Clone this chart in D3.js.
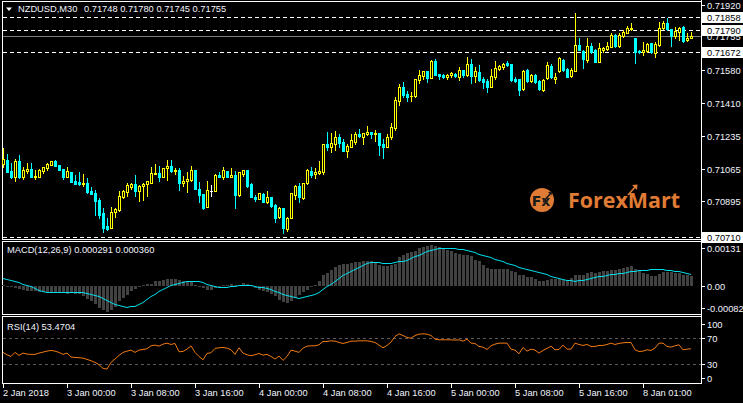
<!DOCTYPE html>
<html><head><meta charset="utf-8">
<script src="https://cdn.jsdelivr.net/npm/d3@7"></script>
<style>
html,body{margin:0;padding:0;background:#000;overflow:hidden}
svg{display:block}
text{font-family:"Liberation Sans",Arial,sans-serif;font-size:9.3px}
</style></head><body>
<svg id="c" width="743" height="403"></svg>
<script>
const symbol = "NZDUSD,M30";
const opens = [0.71091,0.71112,0.71054,0.71020,0.71106,0.71020,0.71054,0.71065,0.71025,0.71025,
0.71056,0.71068,0.71087,0.71106,0.71085,0.71063,0.71025,0.71051,0.71002,0.70995,
0.70985,0.70990,0.70950,0.70941,0.70903,0.70834,0.70768,0.70759,0.70839,0.70851,
0.70920,0.70946,0.70969,0.70985,0.70952,0.70978,0.70985,0.70993,0.71040,0.71045,
0.71025,0.71068,0.71080,0.71056,0.71059,0.70993,0.71002,0.71007,0.71059,0.70960,
0.70934,0.70865,0.70952,0.70952,0.71033,0.71025,0.71056,0.71025,0.71033,0.70929,
0.71040,0.71059,0.70985,0.70920,0.70908,0.70934,0.70894,0.70917,0.70877,0.70816,
0.70860,0.70750,0.70811,0.70929,0.70976,0.70912,0.70990,0.71054,0.71037,0.71042,
0.71047,0.71195,0.71181,0.71195,0.71230,0.71204,0.71160,0.71181,0.71207,0.71247,
0.71233,0.71247,0.71256,0.71244,0.71251,0.71195,0.71181,0.71230,0.71280,0.71420,
0.71490,0.71455,0.71445,0.71445,0.71528,0.71551,0.71575,0.71540,0.71627,0.71559,
0.71554,0.71545,0.71552,0.71558,0.71545,0.71580,0.71554,0.71611,0.71549,0.71570,
0.71533,0.71523,0.71493,0.71545,0.71585,0.71594,0.71618,0.71611,0.71533,0.71533,
0.71480,0.71580,0.71523,0.71554,0.71523,0.71476,0.71537,0.71603,0.71531,0.71577,
0.71632,0.71584,0.71549,0.71577,0.71710,0.71681,0.71632,0.71707,0.71684,0.71624,
0.71684,0.71688,0.71702,0.71763,0.71707,0.71759,0.71775,0.71792,0.71745,0.71679,
0.71672,0.71679,0.71719,0.71670,0.71710,0.71797,0.71823,0.71794,0.71759,0.71780,
0.71803,0.71737,0.71748];
const highs = [0.71172,0.71143,0.71098,0.71117,0.71138,0.71073,0.71094,0.71094,0.71059,0.71063,
0.71077,0.71098,0.71108,0.71112,0.71087,0.71063,0.71077,0.71051,0.71033,0.71049,
0.71039,0.71016,0.70973,0.70955,0.70915,0.70860,0.70811,0.70865,0.70860,0.70950,
0.70955,0.70993,0.70993,0.71033,0.70981,0.70993,0.71004,0.71073,0.71091,0.71082,
0.71072,0.71112,0.71112,0.71072,0.71072,0.71028,0.71051,0.71080,0.71059,0.70999,
0.70934,0.71002,0.70981,0.71039,0.71051,0.71073,0.71056,0.71068,0.71056,0.71051,
0.71059,0.71059,0.70990,0.70929,0.70941,0.70938,0.70952,0.70917,0.70882,0.70868,
0.70860,0.70813,0.70941,0.70981,0.70993,0.70993,0.71063,0.71073,0.71072,0.71106,
0.71195,0.71256,0.71251,0.71263,0.71247,0.71221,0.71195,0.71247,0.71259,0.71273,
0.71254,0.71289,0.71259,0.71268,0.71251,0.71221,0.71247,0.71303,0.71438,0.71507,
0.71516,0.71473,0.71464,0.71535,0.71580,0.71575,0.71575,0.71631,0.71638,0.71559,
0.71559,0.71559,0.71572,0.71563,0.71598,0.71580,0.71650,0.71636,0.71598,0.71606,
0.71542,0.71532,0.71585,0.71627,0.71605,0.71618,0.71627,0.71611,0.71542,0.71533,
0.71580,0.71584,0.71559,0.71559,0.71528,0.71535,0.71624,0.71610,0.71566,0.71645,
0.71636,0.71589,0.71589,0.71879,0.71745,0.71684,0.71745,0.71719,0.71688,0.71719,
0.71702,0.71728,0.71771,0.71766,0.71771,0.71789,0.71810,0.71823,0.71745,0.71684,
0.71728,0.71723,0.71723,0.71728,0.71832,0.71837,0.71849,0.71794,0.71803,0.71806,
0.71810,0.71771,0.71780];
const lows = [0.71076,0.71051,0.71018,0.71004,0.71018,0.71013,0.71045,0.71023,0.71013,0.71021,
0.71045,0.71059,0.71084,0.71080,0.71057,0.71013,0.71020,0.70995,0.70985,0.70981,
0.70978,0.70941,0.70934,0.70825,0.70811,0.70738,0.70747,0.70759,0.70816,0.70847,
0.70912,0.70924,0.70960,0.70924,0.70898,0.70903,0.70924,0.70993,0.71038,0.71002,
0.71020,0.71007,0.71051,0.71039,0.70955,0.70976,0.70946,0.71004,0.70959,0.70894,
0.70856,0.70865,0.70924,0.70952,0.71020,0.71011,0.71025,0.71025,0.70863,0.70924,
0.71028,0.70973,0.70920,0.70900,0.70907,0.70893,0.70886,0.70868,0.70790,0.70811,
0.70733,0.70743,0.70808,0.70908,0.70894,0.70908,0.70987,0.71020,0.71016,0.71037,
0.71039,0.71164,0.71155,0.71164,0.71178,0.71160,0.71129,0.71181,0.71195,0.71233,
0.71195,0.71242,0.71224,0.71212,0.71138,0.71124,0.71178,0.71221,0.71268,0.71398,
0.71441,0.71420,0.71420,0.71441,0.71514,0.71533,0.71519,0.71537,0.71554,0.71533,
0.71537,0.71533,0.71545,0.71545,0.71528,0.71542,0.71549,0.71514,0.71519,0.71525,
0.71485,0.71467,0.71490,0.71532,0.71580,0.71585,0.71601,0.71525,0.71519,0.71450,
0.71476,0.71519,0.71519,0.71511,0.71476,0.71470,0.71532,0.71538,0.71514,0.71572,
0.71577,0.71542,0.71542,0.71577,0.71684,0.71592,0.71624,0.71667,0.71622,0.71624,
0.71676,0.71684,0.71698,0.71702,0.71702,0.71754,0.71771,0.71789,0.71615,0.71667,
0.71658,0.71676,0.71670,0.71650,0.71707,0.71792,0.71789,0.71707,0.71745,0.71737,
0.71728,0.71733,0.71745];
const closes = [0.71115,0.71051,0.71020,0.71106,0.71020,0.71059,0.71065,0.71025,0.71028,0.71059,
0.71073,0.71091,0.71104,0.71082,0.71059,0.71020,0.71054,0.70999,0.70987,0.70985,
0.70993,0.70946,0.70934,0.70898,0.70825,0.70759,0.70750,0.70839,0.70855,0.70924,
0.70950,0.70981,0.70987,0.70952,0.70976,0.70988,0.71002,0.71042,0.71045,0.71025,
0.71068,0.71080,0.71054,0.71061,0.70993,0.71002,0.71011,0.71059,0.70960,0.70929,
0.70860,0.70955,0.70952,0.71033,0.71025,0.71059,0.71025,0.71033,0.70929,0.71047,
0.71059,0.70976,0.70920,0.70907,0.70938,0.70894,0.70919,0.70872,0.70811,0.70860,
0.70755,0.70808,0.70938,0.70978,0.70917,0.70990,0.71059,0.71033,0.71047,0.71056,
0.71195,0.71178,0.71198,0.71230,0.71202,0.71160,0.71185,0.71216,0.71247,0.71237,
0.71254,0.71259,0.71244,0.71254,0.71190,0.71181,0.71230,0.71282,0.71424,0.71490,
0.71450,0.71438,0.71447,0.71532,0.71554,0.71575,0.71540,0.71627,0.71554,0.71549,
0.71542,0.71556,0.71563,0.71549,0.71580,0.71554,0.71611,0.71549,0.71575,0.71528,
0.71519,0.71490,0.71549,0.71589,0.71601,0.71612,0.71608,0.71528,0.71525,0.71476,
0.71575,0.71523,0.71554,0.71519,0.71480,0.71528,0.71606,0.71542,0.71545,0.71641,
0.71580,0.71545,0.71580,0.71710,0.71684,0.71636,0.71705,0.71676,0.71624,0.71697,
0.71697,0.71705,0.71763,0.71707,0.71763,0.71780,0.71797,0.71797,0.71672,0.71672,
0.71684,0.71716,0.71672,0.71716,0.71797,0.71823,0.71794,0.71759,0.71783,0.71801,
0.71733,0.71749,0.71755];
const macdMain = [0.48e-4,0,-0.29e-4,-0.48e-4,-0.68e-4,-0.96e-4,-1.16e-4,-1.25e-4,-1.44e-4,-1.63e-4,
-1.63e-4,-1.73e-4,-1.63e-4,-1.73e-4,-1.82e-4,-1.93e-4,-2.02e-4,-1.93e-4,-2.11e-4,-2.21e-4,
-2.88e-4,-3.56e-4,-4.32e-4,-5.09e-4,-6.06e-4,-6.82e-4,-7.21e-4,-6.73e-4,-5.77e-4,-4.32e-4,
-3.36e-4,-2.41e-4,-1.44e-4,-0.68e-4,0,0.48e-4,0.68e-4,0.86e-4,1.44e-4,1.63e-4,
1.93e-4,2.11e-4,2.21e-4,2.11e-4,1.73e-4,1.44e-4,1.44e-4,1.16e-4,0.48e-4,0,
-0.48e-4,-0.96e-4,-0.96e-4,-0.48e-4,-0.29e-4,0.29e-4,0.48e-4,0.68e-4,0.48e-4,0.48e-4,
0.96e-4,0.68e-4,0.29e-4,-0.48e-4,-0.96e-4,-1.25e-4,-1.63e-4,-2.21e-4,-2.88e-4,-3.84e-4,
-4.61e-4,-4.81e-4,-4.13e-4,-3.36e-4,-2.41e-4,-1.63e-4,-0.96e-4,-0.29e-4,0.48e-4,1.44e-4,
3.18e-4,3.84e-4,4.81e-4,5.48e-4,6.06e-4,6.44e-4,6.54e-4,6.73e-4,6.92e-4,7.02e-4,
7.21e-4,7.21e-4,7.21e-4,6.73e-4,6.25e-4,5.77e-4,5.96e-4,6.25e-4,6.44e-4,8.36e-4,
9.13e-4,9.61e-4,9.90e-4,10.29e-4,11.05e-4,11.24e-4,11.54e-4,12.02e-4,11.54e-4,11.24e-4,
11.05e-4,10.57e-4,10.09e-4,9.61e-4,9.32e-4,8.94e-4,8.94e-4,8.65e-4,7.69e-4,7.21e-4,
6.25e-4,5.29e-4,5.00e-4,5.00e-4,5.09e-4,5.09e-4,5.09e-4,4.52e-4,4.04e-4,3.36e-4,
3.18e-4,2.59e-4,2.59e-4,2.21e-4,1.44e-4,1.44e-4,1.93e-4,2.11e-4,2.11e-4,2.11e-4,
1.93e-4,1.44e-4,2.41e-4,3.18e-4,3.36e-4,3.36e-4,3.84e-4,4.13e-4,3.84e-4,4.04e-4,
4.32e-4,4.52e-4,4.81e-4,4.81e-4,5.00e-4,5.29e-4,5.48e-4,5.77e-4,5.00e-4,4.52e-4,
3.84e-4,3.65e-4,3.07e-4,2.88e-4,3.56e-4,4.04e-4,4.04e-4,4.04e-4,3.84e-4,3.84e-4,
3.36e-4,3.20e-4,2.91e-4];
const macdSignal = [2.41e-4,2.11e-4,1.82e-4,1.44e-4,1.16e-4,0.86e-4,0.48e-4,0.09e-4,-0.48e-4,-0.96e-4,
-1.44e-4,-1.63e-4,-1.73e-4,-1.73e-4,-1.73e-4,-1.63e-4,-1.63e-4,-1.63e-4,-1.63e-4,-1.63e-4,
-1.73e-4,-1.93e-4,-2.02e-4,-2.41e-4,-2.79e-4,-3.36e-4,-3.94e-4,-4.52e-4,-5.00e-4,-5.38e-4,
-5.57e-4,-5.77e-4,-5.67e-4,-5.48e-4,-5.00e-4,-4.42e-4,-3.65e-4,-2.88e-4,-2.11e-4,-1.34e-4,
-0.77e-4,-0.29e-4,0.29e-4,0.77e-4,1.06e-4,1.34e-4,1.44e-4,1.54e-4,1.54e-4,1.44e-4,
1.16e-4,0.77e-4,0.39e-4,0.09e-4,-0.09e-4,-0.09e-4,-0.09e-4,0,0.19e-4,0.39e-4,
0.48e-4,0.39e-4,0.29e-4,0.09e-4,-0.09e-4,-0.29e-4,-0.48e-4,-0.77e-4,-1.16e-4,-1.54e-4,
-2.02e-4,-2.50e-4,-2.88e-4,-3.07e-4,-3.18e-4,-3.07e-4,-2.88e-4,-2.50e-4,-2.11e-4,-1.63e-4,
-0.77e-4,0,0.86e-4,1.63e-4,2.41e-4,3.18e-4,3.84e-4,4.52e-4,5.09e-4,5.67e-4,
6.15e-4,6.63e-4,7.02e-4,7.02e-4,7.02e-4,6.82e-4,6.73e-4,6.73e-4,6.92e-4,7.21e-4,
7.40e-4,7.69e-4,8.17e-4,8.65e-4,9.13e-4,9.61e-4,10.09e-4,10.57e-4,10.86e-4,11.05e-4,
11.05e-4,11.05e-4,11.05e-4,11.05e-4,10.86e-4,10.67e-4,10.38e-4,10.09e-4,9.80e-4,9.42e-4,
9.04e-4,8.65e-4,8.36e-4,7.98e-4,7.59e-4,7.21e-4,6.82e-4,6.44e-4,6.06e-4,5.67e-4,
5.29e-4,5.00e-4,4.71e-4,4.32e-4,4.04e-4,3.75e-4,3.46e-4,3.07e-4,2.79e-4,2.50e-4,
2.21e-4,1.93e-4,1.73e-4,1.63e-4,1.73e-4,1.93e-4,2.21e-4,2.41e-4,2.69e-4,2.88e-4,
3.07e-4,3.27e-4,3.46e-4,3.65e-4,3.75e-4,3.94e-4,4.13e-4,4.32e-4,4.52e-4,4.61e-4,
4.71e-4,4.81e-4,4.90e-4,4.90e-4,5.00e-4,4.95e-4,4.85e-4,4.70e-4,4.55e-4,4.35e-4,
4.15e-4,3.90e-4,3.60e-4];
const rsiValues = [47.8,44.1,41.5,47.8,43.1,46.7,45.2,44.7,44.7,46.7,
48.3,49.8,50.9,49.8,47.8,44.7,46.7,40.5,40.0,39.5,
38.9,36.9,34.8,32.2,28.6,22.9,21.8,32.2,37.4,43.1,
47.8,49.8,51.4,47.8,51.4,52.4,53.5,58.1,59.2,57.6,
60.7,62.3,60.2,61.8,48.8,49.3,52.9,58.1,47.8,41.5,
36.3,46.2,47.2,54.0,55.0,55.5,54.5,51.9,44.7,55.0,
46.7,44.1,42.6,44.1,46.2,43.6,44.7,41.5,37.4,42.1,
35.3,41.5,51.4,49.8,47.8,54.5,57.6,58.1,58.1,59.7,
64.9,64.9,65.9,65.4,63.3,61.8,63.3,65.4,65.4,65.9,
65.9,65.9,64.9,63.3,59.2,55.0,58.7,63.9,72.7,76.8,
74.2,71.1,70.1,74.2,76.3,76.8,76.3,74.2,68.5,67.5,
67.5,67.5,67.5,67.0,67.5,65.4,68.5,62.3,61.8,57.1,
56.1,52.4,58.1,60.7,62.3,62.3,62.3,52.9,51.4,45.7,
55.5,49.8,52.9,51.4,46.7,50.9,54.0,57.6,51.9,52.4,
59.2,52.9,52.9,62.3,60.2,58.7,60.2,57.1,57.1,58.7,
58.7,60.2,62.3,60.2,61.8,62.8,63.3,63.3,51.9,49.3,
49.8,51.9,50.9,54.5,62.3,62.3,57.1,56.1,58.1,59.7,
51.9,52.9,53.4704];
const timeTickBars = [0,16,32,48,64,80,96,112,128,144,160];
const timeTickLabels = ["2 Jan 2018","3 Jan 00:00","3 Jan 08:00","3 Jan 16:00","4 Jan 00:00","4 Jan 08:00","4 Jan 16:00","5 Jan 00:00","5 Jan 08:00","5 Jan 16:00","8 Jan 01:00"];
const priceTicks = [0.71920,0.71580,0.71410,0.71235,0.71065,0.70895];
const levelLines = [0.71858,0.71790,0.71672,0.70710];
const currentPrice = 0.71755;
const macdAxisLabels = ["0.00131","0.00","-0.000821"];
const macdRange = [-0.000821,0.00131];
const rsiLevels = [70,30];
const rsiAxisLabels = [100,70,30,0];

const W=743,H=403;
const svg=d3.select("#c");
svg.append("rect").attr("width",W).attr("height",H).attr("fill","#000");
const n=closes.length;
const x=d3.scaleLinear().domain([0,n-1]).range([3,3+4*(n-1)]);
const yP=d3.scaleLinear().domain([0.70710,0.71920]).range([237,4.7]);
const yM=d3.scaleLinear().domain(macdRange).range([315,241]);
const yR=d3.scaleLinear().domain([0,100]).range([383,319]);
const R=Math.round;
const fmt5=d3.format(".5f");
const axisText="#f2f4ff";

// frames
const fr=svg.append("g").attr("shape-rendering","crispEdges").attr("fill","#fff");
function hline(y,x0,x1){fr.append("rect").attr("x",x0).attr("y",y).attr("width",x1-x0).attr("height",1);}
function vline(x0,y0,y1){fr.append("rect").attr("x",x0).attr("y",y0).attr("width",1).attr("height",y1-y0);}
hline(1,2,702); hline(239,2,702);
hline(241,2,702); hline(314,2,702);
hline(316,2,702); hline(383,2,702);
vline(2,1,240); vline(2,241,315); vline(2,316,384);
vline(701,0,384);

// level lines main
const lv=svg.append("g").attr("shape-rendering","crispEdges");
lv.append("line").attr("x1",3).attr("x2",701).attr("y1",R(yP(currentPrice))+0.5).attr("y2",R(yP(currentPrice))+0.5)
  .attr("stroke","#7a7a7a").attr("stroke-width",1);
levelLines.forEach(v=>{
  const yy=R(yP(v))+0.5;
  lv.append("line").attr("x1",3).attr("x2",701).attr("y1",yy).attr("y2",yy)
    .attr("stroke","#fff").attr("stroke-width",1).attr("stroke-dasharray","4,3");
});

// candles
const cg=svg.append("g").attr("shape-rendering","crispEdges");
for(let i=0;i<n;i++){
  const o=opens[i],h=highs[i],l=lows[i],c=closes[i];
  const col=c>o?"#ffff00":(c<o?"#00ffff":"#ffffff");
  const cx=R(x(i));
  const yh=R(yP(h)),yl=R(yP(l));
  cg.append("rect").attr("x",cx).attr("y",yh).attr("width",1).attr("height",Math.max(1,yl-yh+1)).attr("fill",col);
  const top=R(yP(Math.max(o,c))),bot=R(yP(Math.min(o,c)));
  const bh=Math.max(1,bot-top+1);
  cg.append("rect").attr("x",cx-1).attr("y",top).attr("width",3).attr("height",bh).attr("fill",col);
  if(c>o && bh>2){
    cg.append("rect").attr("x",cx).attr("y",top+1).attr("width",1).attr("height",bh-2).attr("fill","#000");
  }
}

// MACD
const mg=svg.append("g").attr("shape-rendering","crispEdges");
const y0=R(yM(0));
macdMain.forEach((v,i)=>{
  const yy=R(yM(v));
  const t=Math.min(yy,y0),b=Math.max(yy,y0);
  mg.append("rect").attr("x",R(x(i))-1).attr("y",t).attr("width",3).attr("height",Math.max(1,b-t)).attr("fill","#424242");
});
svg.append("path").datum(macdSignal)
  .attr("d",d3.line().x((d,i)=>x(i)).y(d=>R(yM(d))+0.5))
  .attr("fill","none").attr("stroke","#00e0ec").attr("stroke-width",1);

// RSI
const rg=svg.append("g").attr("shape-rendering","crispEdges");
rsiLevels.forEach(v=>{
  const yy=R(yR(v))+0.5;
  rg.append("line").attr("x1",3).attr("x2",701).attr("y1",yy).attr("y2",yy)
    .attr("stroke","#5a5a5a").attr("stroke-dasharray","3,3");
});
svg.append("path").datum(rsiValues)
  .attr("d",d3.line().x((d,i)=>x(i)).y(d=>yR(d)))
  .attr("fill","none").attr("stroke","#f07a10").attr("stroke-width",1);

// right axis - price
const ax=svg.append("g");
priceTicks.forEach(v=>{
  const yy=R(yP(v));
  ax.append("rect").attr("x",702).attr("y",yy).attr("width",3).attr("height",1).attr("fill","#fff").attr("shape-rendering","crispEdges");
  ax.append("text").attr("x",707).attr("y",yy+0.5).attr("dy","0.35em").attr("fill",axisText).text(fmt5(v));
});
// current price label
{
  const yy=R(yP(currentPrice));
  ax.append("rect").attr("x",702).attr("y",yy-5).attr("width",41).attr("height",11).attr("fill","#000");
  ax.append("text").attr("x",707).attr("y",yy+0.5).attr("dy","0.35em").attr("fill",axisText).text(fmt5(currentPrice));
}
levelLines.forEach(v=>{
  const yy=R(yP(v));
  ax.append("rect").attr("x",702).attr("y",yy-5).attr("width",41).attr("height",11).attr("fill","#fff").attr("shape-rendering","crispEdges");
  ax.append("text").attr("x",707).attr("y",yy+0.5).attr("dy","0.35em").attr("fill","#000").text(fmt5(v));
});

// right axis - MACD
const macdLabelY=[248,R(yM(0)),308];
macdAxisLabels.forEach((t,k)=>{
  ax.append("rect").attr("x",702).attr("y",macdLabelY[k]).attr("width",3).attr("height",1).attr("fill","#fff").attr("shape-rendering","crispEdges");
  ax.append("text").attr("x",707).attr("y",macdLabelY[k]+0.5).attr("dy","0.35em").attr("fill",axisText).text(t);
});
// right axis - RSI
const rsiLabelY={100:324,70:R(yR(70)),30:R(yR(30)),0:378};
rsiAxisLabels.forEach(v=>{
  const yy=rsiLabelY[v];
  ax.append("rect").attr("x",702).attr("y",yy).attr("width",3).attr("height",1).attr("fill","#fff").attr("shape-rendering","crispEdges");
  ax.append("text").attr("x",707).attr("y",yy+0.5).attr("dy","0.35em").attr("fill",axisText).text(v);
});

// time axis
timeTickBars.forEach((b,k)=>{
  const xx=R(x(b));
  ax.append("rect").attr("x",xx).attr("y",384).attr("width",1).attr("height",4).attr("fill","#fff").attr("shape-rendering","crispEdges");
  ax.append("text").attr("x",xx).attr("y",393).attr("dy","0.35em").attr("fill",axisText).text(timeTickLabels[k]);
});

// titles
svg.append("path").attr("d","M6,7.5 L12,7.5 L9,11 Z").attr("fill","#fff");
svg.append("text").attr("x",18).attr("y",9).attr("dy","0.35em").attr("fill",axisText).text(symbol);
svg.append("text").attr("x",84).attr("y",9).attr("dy","0.35em").attr("fill",axisText)
  .text([opens[n-1],highs[n-1],lows[n-1],closes[n-1]].map(fmt5).join(" "));
svg.append("text").attr("x",7).attr("y",250).attr("dy","0.35em").attr("fill",axisText)
  .text("MACD(12,26,9) "+d3.format(".6f")(macdMain[n-1])+" "+d3.format(".6f")(macdSignal[n-1]));
svg.append("text").attr("x",7).attr("y",327).attr("dy","0.35em").attr("fill",axisText)
  .text("RSI(14) "+d3.format(".4f")(rsiValues[n-1]));

// logo
const lg=svg.append("g");
const orange="#e07b35";
lg.append("circle").attr("cx",542).attr("cy",200).attr("r",12).attr("fill",orange);
lg.append("text").attr("x",541).attr("y",205.5).attr("text-anchor","middle")
  .style("font-family","'DejaVu Sans',sans-serif").style("font-size","14px").style("font-weight","bold")
  .attr("fill","#1b1b1b").text("Fx");
lg.append("path").attr("d","M543,202 L551,193").attr("stroke","#1b1b1b").attr("stroke-width",1.6);
lg.append("path").attr("d","M548,192 L552,191.5 L551.5,195.5 Z").attr("fill","#1b1b1b");
lg.append("text").attr("x",568).attr("y",208)
  .style("font-family","'Open Sans',sans-serif").style("font-size","22px").style("font-weight","700")
  .attr("textLength",112).attr("lengthAdjust","spacingAndGlyphs")
  .attr("fill",orange).text("ForexMart");
lg.append("path").attr("d","M628,195 L636,186").attr("stroke",orange).attr("stroke-width",1.6);
lg.append("path").attr("d","M632,185 L637.5,184.5 L637,190 Z").attr("fill",orange);
</script>
</body></html>
